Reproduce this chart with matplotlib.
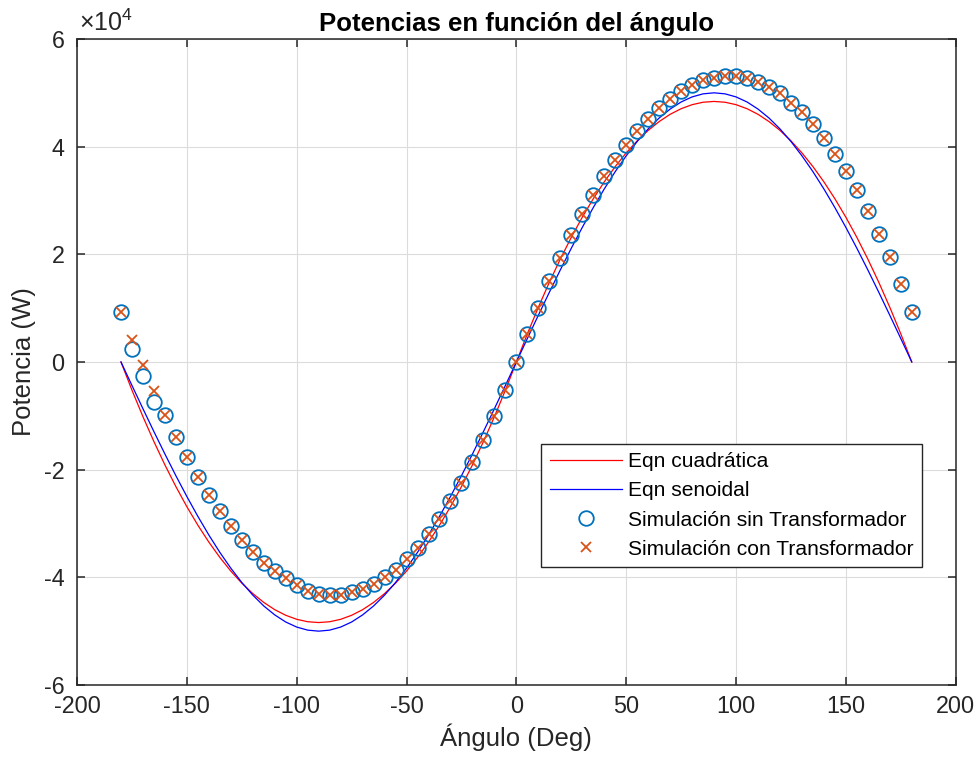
import numpy as np
import matplotlib
matplotlib.use('Agg')
import matplotlib.pyplot as plt
from matplotlib.ticker import FuncFormatter

plt.rcParams['font.family'] = ['Liberation Sans', 'DejaVu Sans']
plt.rcParams['mathtext.fontset'] = 'custom'
plt.rcParams['mathtext.rm'] = 'Liberation Sans'
plt.rcParams['axes.unicode_minus'] = False

# angulo de carga (grados)
angulo = [-180, -175, -170, -165, -160, -155, -150, -145, -140, -135, -130, -125,
          -120, -115, -110, -105, -100, -95, -90, -85, -80, -75, -70, -65,
          -60, -55, -50, -45, -40, -35, -30, -25, -20, -15, -10, -5,
          0, 5, 10, 15, 20, 25, 30, 35, 40, 45, 50, 55,
          60, 65, 70, 75, 80, 85, 90, 95, 100, 105, 110, 115,
          120, 125, 130, 135, 140, 145, 150, 155, 160, 165, 170, 175, 180]

# potencia con la ecuacion cuadratica (W)
p_cuadratica = [0, -5230, -10160, -14790, -19120, -23150, -26890, -30320, -33460, -36300,
                -38840, -41080, -43020, -44660, -46010, -47050, -47800, -48250, -48400,
                -48250, -47800, -47050, -46010, -44660, -43020, -41080, -38840, -36300,
                -33460, -30320, -26890, -23150, -19120, -14790, -10160, -5230,
                0, 5230, 10160, 14790, 19120, 23150, 26890, 30320, 33460, 36300,
                38840, 41080, 43020, 44660, 46010, 47050, 47800, 48250, 48400,
                48250, 47800, 47050, 46010, 44660, 43020, 41080, 38840, 36300,
                33460, 30320, 26890, 23150, 19120, 14790, 10160, 5230, 0]

# potencia con la ecuacion senoidal (W)
p_senoidal = [0, -4360, -8680, -12940, -17100, -21130, -25000, -28680, -32140, -35360,
              -38300, -40960, -43300, -45320, -46980, -48300, -49240, -49810, -50000,
              -49810, -49240, -48300, -46980, -45320, -43300, -40960, -38300, -35360,
              -32140, -28680, -25000, -21130, -17100, -12940, -8680, -4360,
              0, 4360, 8680, 12940, 17100, 21130, 25000, 28680, 32140, 35360,
              38300, 40960, 43300, 45320, 46980, 48300, 49240, 49810, 50000,
              49810, 49240, 48300, 46980, 45320, 43300, 40960, 38300, 35360,
              32140, 28680, 25000, 21130, 17100, 12940, 8680, 4360, 0]

# resultados de simulacion (W)
p_sin_trafo = [9300, 2500, -2600, -7500, -9800, -13900, -17700, -21300, -24700, -27600,
               -30500, -33100, -35300, -37300, -38800, -40200, -41400, -42600, -43100,
               -43300, -43200, -42800, -42200, -41200, -40000, -38600, -36600, -34600,
               -32000, -29100, -25900, -22500, -18600, -14500, -10000, -5200,
               0, 5200, 10100, 15000, 19300, 23600, 27500, 31000, 34500, 37600,
               40300, 42900, 45100, 47100, 48800, 50300, 51400, 52300, 52800,
               53100, 53100, 52700, 52100, 51100, 49900, 48200, 46400, 44200,
               41600, 38700, 35500, 31900, 28000, 23700, 19500, 14500, 9300]

p_con_trafo = [9300, 4100, -600, -5400, -9800, -13900, -17700, -21300, -24700, -27600,
               -30500, -33100, -35300, -37300, -38800, -40200, -41400, -42600, -43100,
               -43300, -43200, -42800, -42200, -41200, -40000, -38600, -36600, -34600,
               -32000, -29100, -25900, -22500, -18600, -14500, -10000, -5200,
               0, 5200, 10100, 15000, 19300, 23600, 27500, 31000, 34500, 37600,
               40300, 42900, 45100, 47100, 48800, 50300, 51400, 52300, 52800,
               53100, 53100, 52700, 52100, 51100, 49900, 48200, 46400, 44200,
               41600, 38700, 35500, 31900, 28000, 23700, 19500, 14500, 9300]

fig = plt.figure(figsize=(9.79, 7.6), dpi=100)
ax = fig.add_axes([0.0787, 0.0987, 0.8975, 0.8500])

ax.plot(angulo, p_cuadratica, color='r', lw=0.9, label='Eqn cuadrática')
ax.plot(angulo, p_senoidal, color='b', lw=0.9, label='Eqn senoidal')
ax.plot(angulo, p_sin_trafo, 'o', mfc='none', mec='#0072BD', ms=10.5, mew=1.3,
        label='Simulación sin Transformador')
ax.plot(angulo, p_con_trafo, 'x', color='#D95319', ms=7, mew=1.3,
        label='Simulación con Transformador')

ax.set_xlim(-200, 200)
ax.set_ylim(-60000, 60000)
ax.set_xticks(range(-200, 201, 50))
ax.set_yticks(range(-60000, 60001, 20000))
ax.yaxis.set_major_formatter(FuncFormatter(lambda v, p: '%d' % round(v / 1e4)))

ax.grid(True, color='#dcdcdc', lw=0.8)
ax.set_axisbelow(True)
for s in ax.spines.values():
    s.set_color('#262626')
    s.set_linewidth(1.1)
ax.tick_params(direction='in', length=6, width=1.1, colors='#262626',
               labelsize=16.8, top=True, right=True)
ax.tick_params(axis='x', pad=7)
ax.tick_params(axis='y', pad=9)

ax.set_title('Potencias en función del ángulo', fontsize=18.5, fontweight='bold', pad=6)
ax.set_xlabel('Ángulo (Deg)', fontsize=18.5, color='#262626', labelpad=4)
ax.set_ylabel('Potencia (W)', fontsize=18.5, color='#262626', labelpad=6)
ax.text(0.002, 1.004, r'$\times\mathregular{10^{4}}$', transform=ax.transAxes,
        fontsize=18, color='#262626', ha='left', va='bottom')

leg = ax.legend(loc='lower right', bbox_to_anchor=(0.962, 0.182), fontsize=15.1,
                fancybox=False, framealpha=1, edgecolor='#262626',
                handlelength=3.4, handletextpad=0.3, labelspacing=0.48,
                borderpad=0.42, borderaxespad=0)
leg.get_frame().set_linewidth(1.0)

fig.savefig('out.png', dpi=100)
